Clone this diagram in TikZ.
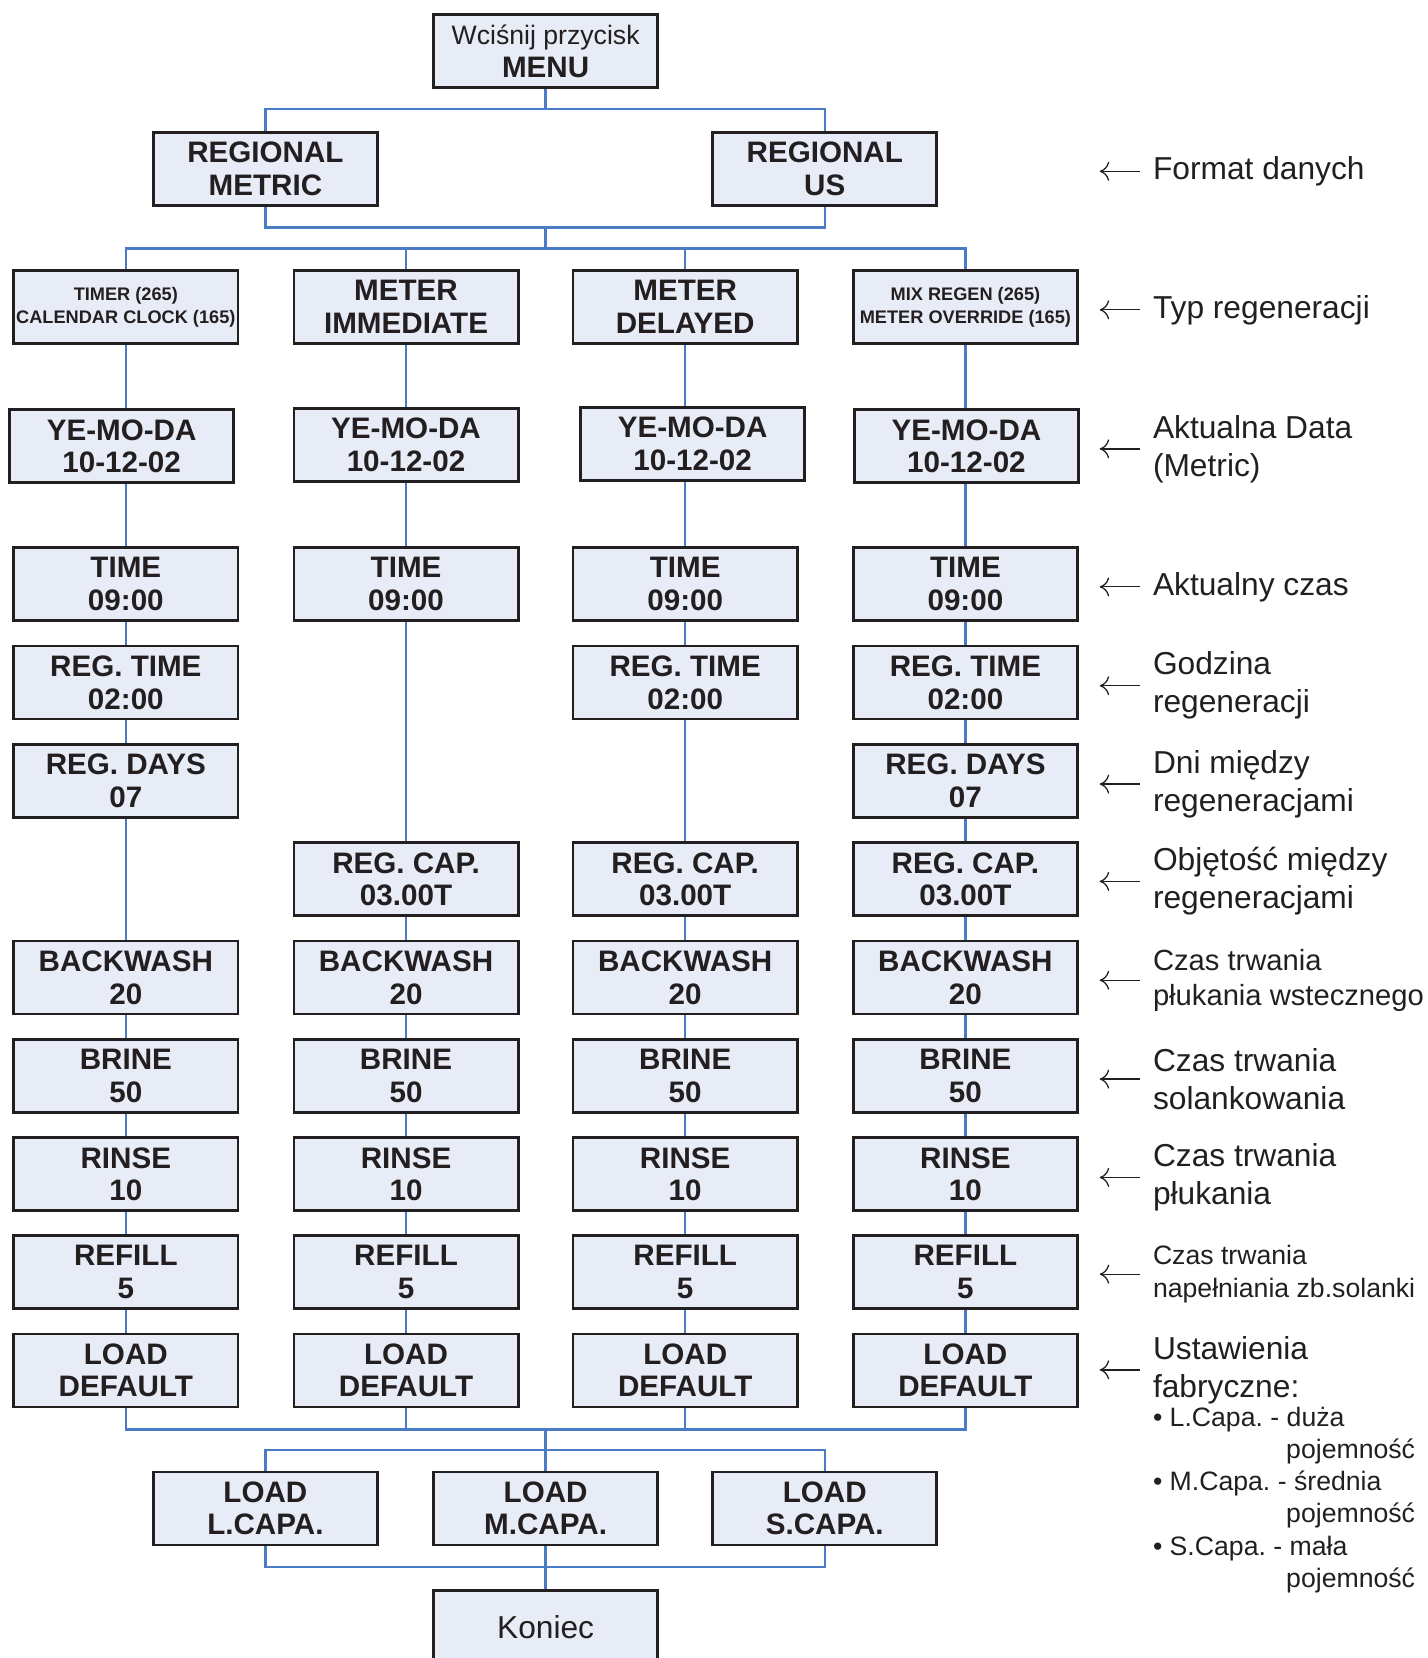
\documentclass[tikz,border=0pt]{standalone}
\usepackage{fontspec}
\setmainfont{Liberation Sans}
\usetikzlibrary{arrows.meta}
\definecolor{boxfill}{HTML}{E8ECF7}
\definecolor{boxline}{HTML}{231F20}
\definecolor{linkblue}{HTML}{4A7BC4}
\definecolor{labtext}{HTML}{231F20}
\frenchspacing
\begin{document}
\begin{tikzpicture}[x=0.5pt,y=-0.5pt,
  box/.style={draw=boxline, fill=boxfill, line width=1.3pt, minimum width=106pt, minimum height=34.5pt,
    inner sep=0pt, align=center, text=labtext, font=\fontsize{14}{15.5}\selectfont\bfseries},
  smallbox/.style={box, font=\fontsize{8.6}{11}\selectfont\bfseries},
  link/.style={draw=linkblue, line width=1.1pt, line join=miter},
  lab/.style={anchor=west, inner sep=0pt, align=left, text=labtext, font=\fontsize{15}{18}\selectfont},
  arr/.style={draw=labtext, line width=0.6pt, -{To[length=4.5pt,width=9pt]}}]
\useasboundingbox (0,0) rectangle (1350,1568);

% top part
\node[box] (menu) at (516,48.5) {{\mdseries\fontsize{12.6}{15}\selectfont Wciśnij przycisk}\\MENU};
\node[box] (rm) at (251,159.5) {REGIONAL\\METRIC};
\node[box] (ru) at (780,159.5) {REGIONAL\\US};

% row 1: regeneration type
\node[smallbox] (t1) at (119,290.5) {TIMER (265)\\CALENDAR CLOCK (165)};
\node[box] (t2) at (384,290.5) {METER\\IMMEDIATE};
\node[box] (t3) at (648,290.5) {METER\\DELAYED};
\node[smallbox] (t4) at (913,290.5) {MIX REGEN (265)\\METER OVERRIDE (165)};

% row 2: date
\node[box] (y1) at (115,422) {YE-MO-DA\\10-12-02};
\node[box] (y2) at (384,421) {YE-MO-DA\\10-12-02};
\node[box] (y3) at (655,420) {YE-MO-DA\\10-12-02};
\node[box] (y4) at (914,422) {YE-MO-DA\\10-12-02};

% row 3: time
\foreach \x/\i in {119/1,384/2,648/3,913/4}{
  \node[box] (ti\i) at (\x,552.5) {TIME\\09:00};
}
% row 4: reg time
\foreach \x/\i in {119/1,648/3,913/4}{
  \node[box] (rt\i) at (\x,645.5) {REG. TIME\\02:00};
}
% row 5: reg days
\foreach \x/\i in {119/1,913/4}{
  \node[box] (rd\i) at (\x,738.5) {REG. DAYS\\07};
}
% row 6: reg cap
\foreach \x/\i in {384/2,648/3,913/4}{
  \node[box] (rc\i) at (\x,831.5) {REG. CAP.\\03.00T};
}
% rows 7-11
\foreach \x/\i in {119/1,384/2,648/3,913/4}{
  \node[box] (bw\i) at (\x,924.5) {BACKWASH\\20};
  \node[box] (br\i) at (\x,1017.5) {BRINE\\50};
  \node[box] (ri\i) at (\x,1110.5) {RINSE\\10};
  \node[box] (rf\i) at (\x,1203) {REFILL\\5};
  \node[box] (ld\i) at (\x,1296) {LOAD\\DEFAULT};
}

% capacity row
\node[box] (c1) at (251,1426.5) {LOAD\\L.CAPA.};
\node[box] (c2) at (516,1426.5) {LOAD\\M.CAPA.};
\node[box] (c3) at (780,1426.5) {LOAD\\S.CAPA.};
\node[box, font=\fontsize{15}{18}\selectfont] (kon) at (516,1538.5) {Koniec};

% bus coordinates
\coordinate (b1) at (516,103);
\coordinate (b2) at (516,215);
\coordinate (b3) at (516,235);
\coordinate (b4) at (516,1352);
\coordinate (b5) at (516,1371);
\coordinate (b6) at (516,1482);

% connectors top
\draw[link] (menu.south) -- (b1);
\draw[link] (rm.north) |- (b1) -| (ru.north);
\draw[link] (rm.south) |- (b2) -| (ru.south);
\draw[link] (b2) -- (b3);
\draw[link] (t1.north) |- (b3) -| (t4.north);
\draw[link] (t2.north) -- (t2.north |- b3);
\draw[link] (t3.north) -- (t3.north |- b3);

% column connectors
\foreach \i in {1,2,3,4}{
  \draw[link] (t\i.south) -- (t\i.south |- y\i.north);
  \draw[link] (ti\i.north) -- (ti\i.north |- y\i.south);
  \draw[link] (bw\i.south) -- (br\i.north);
  \draw[link] (br\i.south) -- (ri\i.north);
  \draw[link] (ri\i.south) -- (rf\i.north);
  \draw[link] (rf\i.south) -- (ld\i.north);
}
% column 1
\draw[link] (ti1.south) -- (rt1.north);
\draw[link] (rt1.south) -- (rd1.north);
\draw[link] (rd1.south) -- (bw1.north);
% column 2
\draw[link] (ti2.south) -- (rc2.north);
\draw[link] (rc2.south) -- (bw2.north);
% column 3
\draw[link] (ti3.south) -- (rt3.north);
\draw[link] (rt3.south) -- (rc3.north);
\draw[link] (rc3.south) -- (bw3.north);
% column 4
\draw[link] (ti4.south) -- (rt4.north);
\draw[link] (rt4.south) -- (rd4.north);
\draw[link] (rd4.south) -- (rc4.north);
\draw[link] (rc4.south) -- (bw4.north);

% connectors bottom
\draw[link] (ld1.south) |- (b4) -| (ld4.south);
\draw[link] (ld2.south) -- (ld2.south |- b4);
\draw[link] (ld3.south) -- (ld3.south |- b4);
\draw[link] (b4) -- (b5);
\draw[link] (c1.north) |- (b5) -| (c3.north);
\draw[link] (c2.north) -- (b5);
\draw[link] (c1.south) |- (b6) -| (c3.south);
\draw[link] (c2.south) -- (b6) -- (kon.north);

% right-hand labels
\node[lab] (l1) at (1090,162) {Format danych};
\node[lab] (l2) at (1090,293) {Typ regeneracji};
\node[lab] (l3) at (1090,424.5) {Aktualna Data\\(Metric)};
\node[lab] (l4) at (1090,555) {Aktualny czas};
\node[lab] (l5) at (1090,648.5) {Godzina\\regeneracji};
\node[lab] (l6) at (1090,741.5) {Dni między\\regeneracjami};
\node[lab] (l7) at (1090,833.5) {Objętość między\\regeneracjami};
\node[lab, font=\fontsize{13.8}{16.5}\selectfont] (l8) at (1090,927) {Czas trwania\\płukania wstecznego};
\node[lab] (l9) at (1090,1020.5) {Czas trwania\\solankowania};
\node[lab] (l10) at (1090,1113.5) {Czas trwania\\płukania};
\node[lab, font=\fontsize{12.6}{15.5}\selectfont] (l11) at (1090,1205) {Czas trwania\\napełniania zb.solanki};
\node[lab] (l12) at (1090,1295.5) {Ustawienia\\fabryczne:};
\node[lab, anchor=north west, font=\fontsize{12.6}{15.25}\selectfont] (l13) at (1090,1330)
  {\textbullet\ L.Capa. - duża\\\hspace*{63pt}pojemność\\
   \textbullet\ M.Capa. - średnia\\\hspace*{63pt}pojemność\\
   \textbullet\ S.Capa. - mała\\\hspace*{63pt}pojemność};

\foreach \i in {1,2,...,12}{
  \draw[arr] ([xshift=-6pt]l\i.west) -- ++(-19pt,0);
}
\end{tikzpicture}
\end{document}
